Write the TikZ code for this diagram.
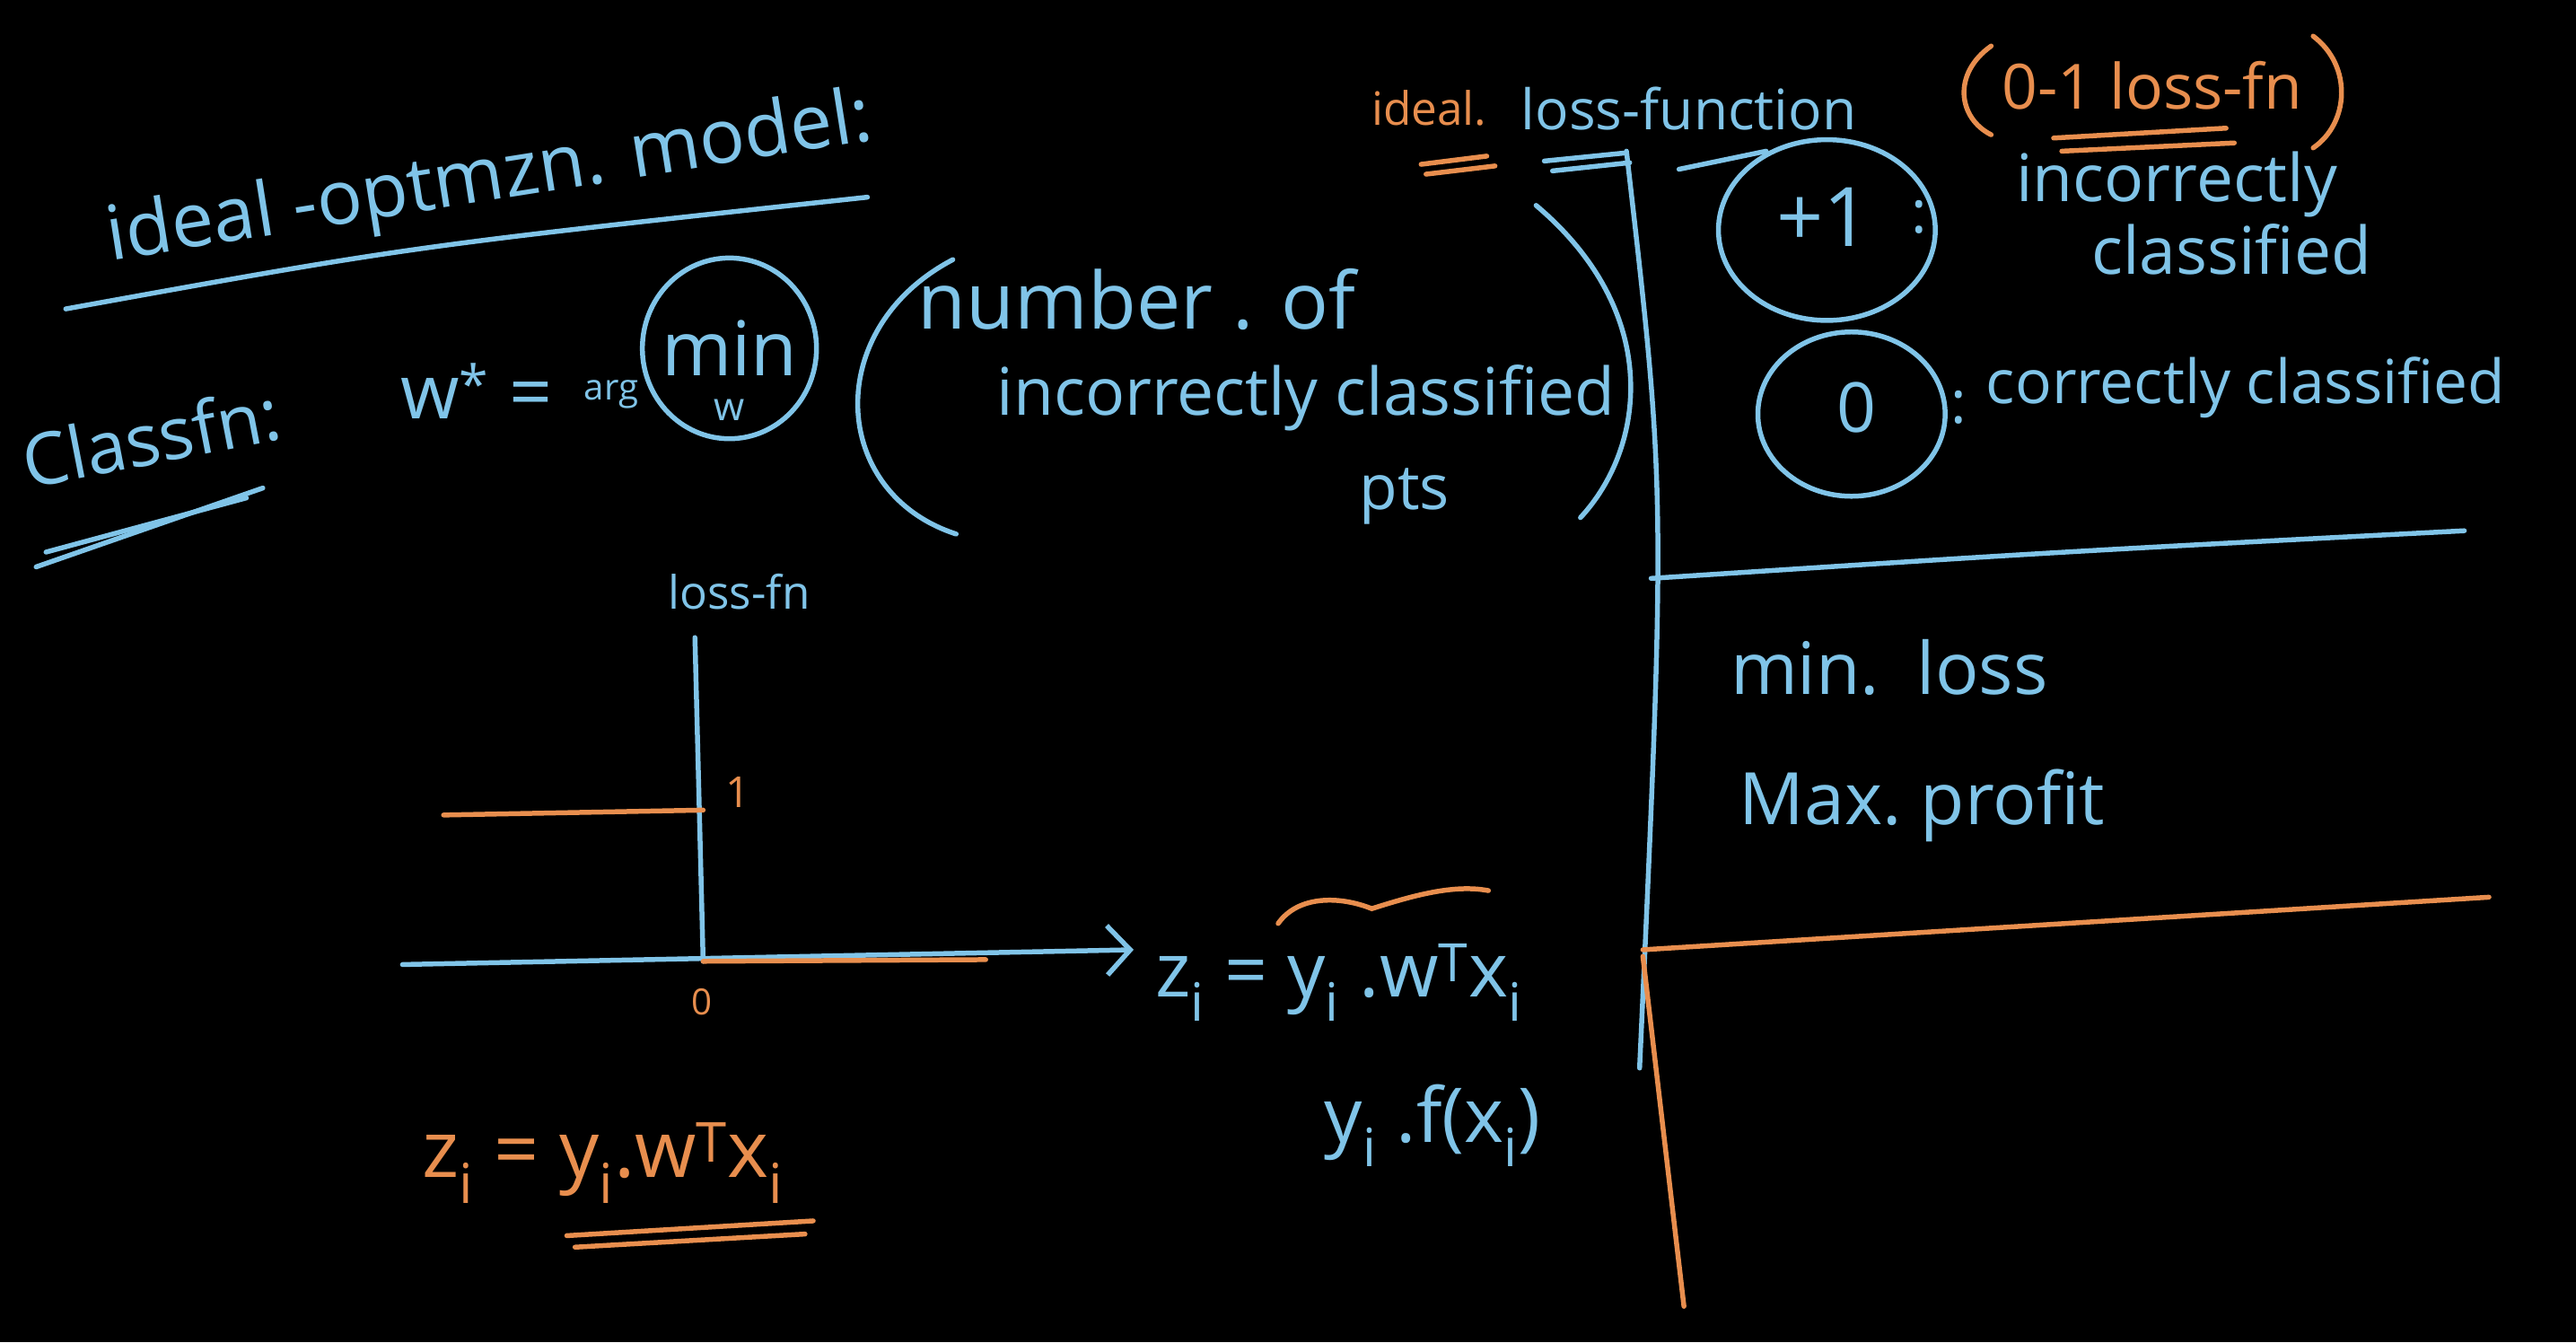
\documentclass[tikz,border=0pt]{standalone}
\usepackage{fontspec}
\setmainfont{Open Sans}
\usepackage{tikz}
\usetikzlibrary{positioning,arrows.meta,calc}
\definecolor{chalkblue}{RGB}{128,196,232}
\definecolor{chalkorange}{RGB}{232,142,78}
\newcommand{\fs}[1]{\fontsize{#1}{#1}\selectfont}

\begin{document}
\begin{tikzpicture}[x=1pt,y=-1pt,
        bl/.style={text=chalkblue, inner sep=0pt, align=center},
        og/.style={text=chalkorange, inner sep=0pt, align=center},
        bline/.style={draw=chalkblue, line width=3pt, line cap=round},
        oline/.style={draw=chalkorange, line width=3pt, line cap=round}
      ]
        \fill[black] (0,0) rectangle (1568,817);
        \useasboundingbox (0,0) rectangle (1568,817);

        % heading and objective
        \node[bl, font=\fs{46}, rotate=9] (title) at (298,110) {ideal -optmzn. model:};
        \draw[bline] (40,188) .. controls (250,150) .. (528,120);
        \node[bl, font=\fs{44}, rotate=11] (clsfn) at (92,266) {Classfn:};
        \draw[bline] (22,345) -- (160,297);
        \draw[bline] (28,336) -- (150,303);

        \node[bl, font=\fs{46}] (wstar) at (290,238) {w\textsuperscript{*} =};
        \node[bl, font=\fs{22}] (arg) at (372,240) {arg};
        \node[bl, font=\fs{46}] (mini) at (444,212) {min};
        \draw[bline] (mini) ellipse [x radius=53, y radius=55];
        \node[bl, font=\fs{24}, below=14pt of mini] (wsub) {w};

        \draw[bline] (580,158) .. controls (500,200) and (505,300) .. (582,325);
        \node[bl, font=\fs{48}] (numof) at (692,182) {number . of};
        \node[bl, font=\fs{40}] (incl) at (795,242) {incorrectly classified};
        \node[bl, font=\fs{38}] (pts) at (855,302) {pts};
        \draw[bline] (935,125) .. controls (1012,190) and (1002,272) .. (962,315);

        % 0-1 loss panel
        \draw[bline] (990,92) .. controls (1014,300) .. (998,650);
        \draw[bline] (1005,352) .. controls (1250,336) .. (1500,323);
        \draw[oline] (1000,578) -- (1515,546);
        \draw[oline] (1000,582) -- (1025,795);

        \node[og, font=\fs{28}] (ideal) at (870,66) {ideal.};
        \draw[oline] (865,100) -- (905,95);
        \draw[oline] (868,106) -- (910,101);
        \node[bl, font=\fs{34}] (lossfun) at (1028,66) {loss-function};
        \draw[bline] (940,98) -- (990,93);
        \draw[bline] (945,104) -- (992,99);
        \draw[bline] (1022,103) -- (1075,92);

        \node[og, font=\fs{38}] (zeroone) at (1310,52) {0-1 loss-fn};
        \draw[oline] (1212,28) .. controls (1188,45) and (1192,72) .. (1212,82);
        \draw[oline] (1408,22) .. controls (1432,40) and (1430,75) .. (1408,90);
        \draw[oline] (1250,84) -- (1355,78);
        \draw[oline] (1255,92) -- (1360,87);

        \node[bl, font=\fs{50}] (plusone) at (1110,132) {+1};
        \draw[bline] (1112,140) ellipse [x radius=66, y radius=55];
        \node[bl, font=\fs{36}] (colA) at (1168,132) {:};
        \node[bl, font=\fs{40}] (incor) at (1325,112) {incorrectly};
        \node[bl, font=\fs{40}, below right=4pt and -150pt of incor] (clsd) {classified};

        \node[bl, font=\fs{42}] (zero) at (1130,248) {0};
        \draw[bline] (1127,252) ellipse [x radius=57, y radius=50];
        \node[bl, font=\fs{36}] (colB) at (1192,248) {:};
        \node[bl, font=\fs{37}] (cor) at (1367,236) {correctly classified};

        \node[bl, font=\fs{44}] (minloss) at (1150,406) {min.~~loss};
        \node[bl, font=\fs{44}] (maxprof) at (1170,490) {Max.~profit};

        % step loss plot
        \node[bl, font=\fs{28}] (lossfn) at (450,360) {loss-fn};
        \coordinate (ytop) at (423,388);
        \coordinate (orig) at (428,585);
        \coordinate (xleft) at (245,587);
        \coordinate (xright) at (690,578);
        \draw[bline] (ytop) -- (orig);
        \draw[bline, -{Straight Barb[length=14pt,width=30pt]}] (xleft) -- (xright);
        \draw[oline] (270,496) -- (428,493);
        \draw[oline] (orig) -- (600,584);
        \node[og, font=\fs{26}] (one) at (449,482) {1};
        \node[og, font=\fs{22}] (zlab) at (427,610) {0};

        \node[bl, font=\fs{46}] (zi) at (815,598) {z\textsubscript{i} = y\textsubscript{i} .w\textsuperscript{T}x\textsubscript{i}};
        \draw[oline] (778,562) .. controls (790,545) and (815,545) .. (835,553)
                     .. controls (860,545) and (885,538) .. (906,542);
        \node[bl, font=\fs{46}] (yif) at (872,685) {y\textsubscript{i} .f(x\textsubscript{i})};

        \node[og, font=\fs{48}] (ziog) at (367,708) {z\textsubscript{i} = y\textsubscript{i}.w\textsuperscript{T}x\textsubscript{i}};
        \draw[oline] (345,752) -- (495,743);
        \draw[oline] (350,759) -- (490,751);
      \end{tikzpicture}
\end{document}
